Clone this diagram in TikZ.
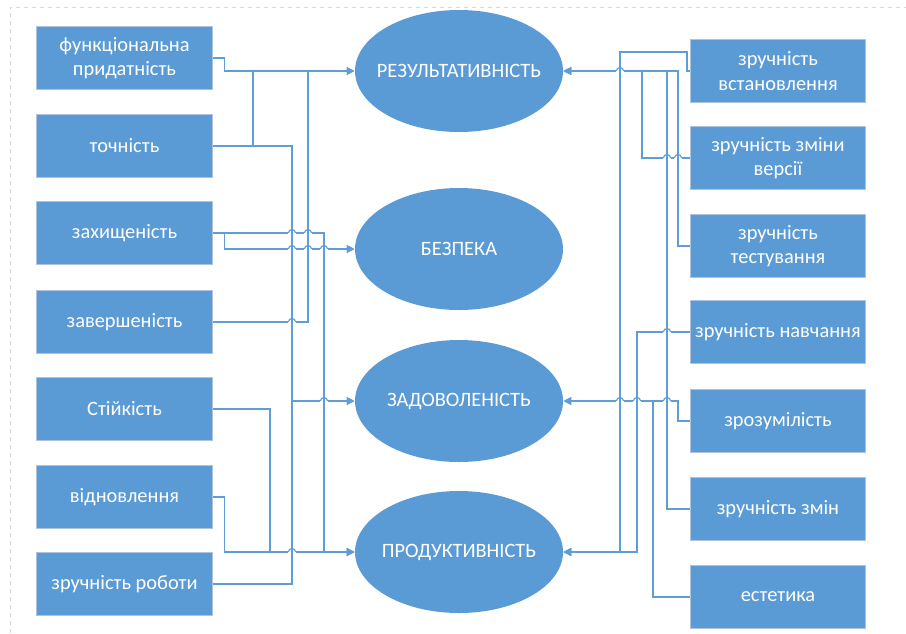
\documentclass[tikz,border=0pt]{standalone}
\usepackage{fontspec}
\setmainfont{Carlito}
\usetikzlibrary{arrows.meta,shapes.geometric}
\definecolor{boxblue}{HTML}{5B9BD5}
\definecolor{boxedge}{HTML}{AFC3DC}
\definecolor{linkblue}{HTML}{5F9DD7}
\definecolor{frame}{HTML}{D9D9D9}

% a line hop: the horizontal wire jumps over a vertical one at (x,y)
\newcommand\hopat[2]{%
  \draw[white, line width=2.6pt] (#1-3.6,#2) -- (#1+3.6,#2);
  \draw[conn] (#1,#2-4.5) -- (#1,#2+4.5);
  \draw[conn] (#1-3.6,#2) .. controls (#1-3.6,#2-4.6) and (#1+3.6,#2-4.6) .. (#1+3.6,#2);}

\begin{document}
\begin{tikzpicture}[x=0.75pt,y=-0.75pt,
  qbox/.style={rectangle, fill=boxblue, draw=boxedge, line width=0.6pt,
    minimum width=131.5pt, minimum height=47.25pt, inner sep=0pt,
    text=white, align=center, font=\fontsize{15.3}{18.3}\selectfont},
  goal/.style={ellipse, fill=boxblue, minimum width=156pt, minimum height=91.5pt,
    inner sep=0pt},
  goaltext/.style={text=white, inner sep=0pt, font=\fontsize{15.3}{18.3}\selectfont},
  conn/.style={draw=linkblue, line width=0.85pt},
  arr/.style={conn, -{Triangle[length=6pt,width=6pt]}}]

\useasboundingbox (0,0) rectangle (906,633);
\draw[frame, dashed, line width=0.6pt] (10,633) -- (10,7) -- (906,7);

% characteristics on the left
\node[qbox] (L1) at (124.5,58)  {функціональна\\придатність};
\node[qbox] (L2) at (124.5,146) {точність};
\node[qbox] (L3) at (124.5,233) {захищеність};
\node[qbox] (L4) at (124.5,322) {завершеність};
\node[qbox] (L5) at (124.5,409) {Стійкість};
\node[qbox] (L6) at (124.5,497) {відновлення};
\node[qbox] (L7) at (124.5,584) {зручність роботи};

% characteristics on the right
\node[qbox] (R1) at (778,71)  {зручність\\встановлення};
\node[qbox] (R2) at (778,158) {зручність зміни\\версії};
\node[qbox] (R3) at (778,246) {зручність\\тестування};
\node[qbox] (R4) at (778,332) {зручність навчання};
\node[qbox] (R5) at (778,421) {зрозумілість};
\node[qbox] (R6) at (778,509) {зручність змін};
\node[qbox] (R7) at (778,597) {естетика};

% quality-in-use goals (fixed-size ellipses, labels set on top)
\node[goal] (E1) at (459,71)  {};
\node[goal] (E2) at (459,249) {};
\node[goal] (E3) at (459,401) {};
\node[goal] (E4) at (459,552) {};
\node[goaltext] (T1) at (E1) {РЕЗУЛЬТАТИВНІСТЬ};
\node[goaltext] (T2) at (E2) {БЕЗПЕКА};
\node[goaltext] (T3) at (E3) {ЗАДОВОЛЕНІСТЬ};
\node[goaltext] (T4) at (E4) {ПРОДУКТИВНІСТЬ};

% left-hand wiring
\draw[arr]  (L1.east) -- ++(12,0) |- (E1.west);
\draw[conn] (L2.east) -| (253,71);
\draw[arr]  (L2.east) -| (292,401) -- (E3.west);
\draw[arr]  (L3.east) -- ++(12,0) |- (E2.west);
\draw[arr]  (L3.east) -| (324,552) -- (E4.west);
\draw[conn] (L4.east) -| (308,71);
\draw[conn] (L5.east) -| (270,552);
\draw[arr]  (L6.east) -- ++(12,0) |- (E4.west);
\draw[conn] (L7.east) -| (292,401);

% right-hand wiring
\draw[arr]  (R1.west) -- ++(-3,0) |- (620,52) -- (620,552) -- (E4.east);
\draw[arr]  (R2.west) -| (642,71) -- (E1.east);
\draw[arr]  (R3.west) -| (678,71) -- (E1.east);
\draw[conn] (R6.west) -| (667,71);
\draw[arr]  (R4.west) -| (637,552) -- (E4.east);
\draw[arr]  (R5.west) -- ++(-12,0) |- (E3.east);
\draw[conn] (R7.west) -| (653,401);

% line hops
\hopat{292}{233}\hopat{308}{233}
\hopat{292}{249}\hopat{308}{249}\hopat{324}{249}
\hopat{292}{322}\hopat{324}{401}\hopat{292}{552}
\hopat{620}{71}\hopat{667}{158}\hopat{678}{158}\hopat{667}{332}
\hopat{620}{401}\hopat{637}{401}\hopat{667}{401}
\end{tikzpicture}
\end{document}
